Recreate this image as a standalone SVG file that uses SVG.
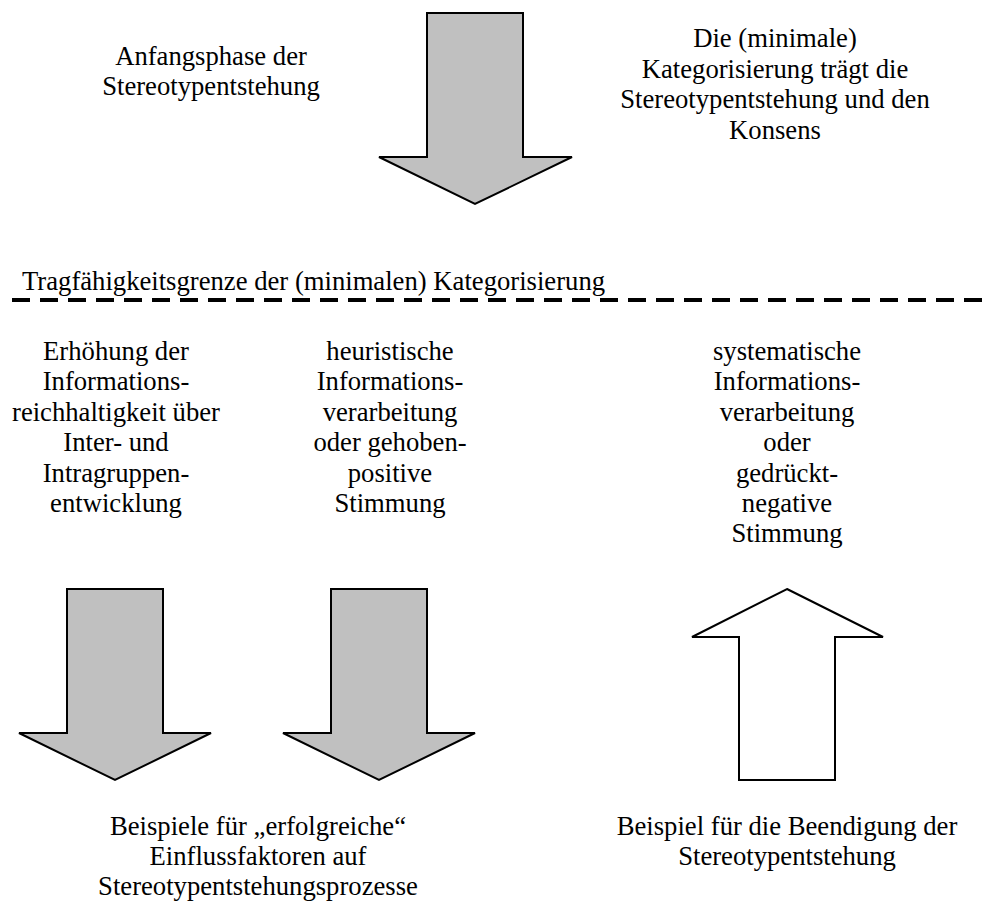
<svg xmlns="http://www.w3.org/2000/svg" width="990" height="904" viewBox="0 0 990 904">
<style>
text{font-family:"Liberation Serif","Times New Roman",serif;font-size:26.67px;fill:#000;text-anchor:middle}
.arrow{fill:#C0C0C0;stroke:#000;stroke-width:2;stroke-linejoin:miter}
.hollow{fill:#FFF;stroke:#000;stroke-width:2;stroke-linejoin:miter}
.dash{stroke:#000;stroke-width:4;stroke-dasharray:18 10;fill:none}
</style>
<rect width="990" height="904" fill="#FFF"/>
<g id="connectors">
<polygon id="arrow-top" class="arrow" points="427,13 523,13 523,157 572,157 475,204 379,157 427,157"/>
<polygon id="arrow-bottom-1" class="arrow" points="67,589 163,589 163,733 211,733 115,780 19,733 67,733"/>
<polygon id="arrow-bottom-2" class="arrow" points="331,589 427,589 427,733 475,733 379,780 283,733 331,733"/>
<polygon id="arrow-up" class="hollow" points="787,589 883,637 835,637 835,780 739,780 739,637 692,637"/>
<line id="boundary-line" class="dash" x1="12" y1="300" x2="990" y2="300"/>
</g>
<g id="label-anfangsphase">
<text x="211" y="65">Anfangsphase der</text>
<text x="211" y="95">Stereotypentstehung</text>
</g>
<g id="label-kategorisierung">
<text x="775" y="47">Die (minimale)</text>
<text x="775" y="77.5">Kategorisierung trägt die</text>
<text x="775" y="108">Stereotypentstehung und den</text>
<text x="775" y="138.5">Konsens</text>
</g>
<g id="label-grenze">
<text x="22" y="290" style="text-anchor:start">Tragfähigkeitsgrenze der (minimalen) Kategorisierung</text>
</g>
<g id="label-erhoehung">
<text x="116" y="360">Erhöhung der</text>
<text x="116" y="390.4">Informations-</text>
<text x="116" y="420.8">reichhaltigkeit über</text>
<text x="116" y="451.2">Inter- und</text>
<text x="116" y="481.6">Intragruppen-</text>
<text x="116" y="512">entwicklung</text>
</g>
<g id="label-heuristisch">
<text x="390" y="360">heuristische</text>
<text x="390" y="390.4">Informations-</text>
<text x="390" y="420.8">verarbeitung</text>
<text x="390" y="451.2">oder gehoben-</text>
<text x="390" y="481.6">positive</text>
<text x="390" y="512">Stimmung</text>
</g>
<g id="label-systematisch">
<text x="787" y="360">systematische</text>
<text x="787" y="390.4">Informations-</text>
<text x="787" y="420.8">verarbeitung</text>
<text x="787" y="451.2">oder</text>
<text x="787" y="481.6">gedrückt-</text>
<text x="787" y="512">negative</text>
<text x="787" y="542.4">Stimmung</text>
</g>
<g id="label-beispiele">
<text x="258" y="835">Beispiele für „erfolgreiche“</text>
<text x="258" y="865">Einflussfaktoren auf</text>
<text x="258" y="895">Stereotypentstehungsprozesse</text>
</g>
<g id="label-beendigung">
<text x="787" y="835">Beispiel für die Beendigung der</text>
<text x="787" y="865">Stereotypentstehung</text>
</g>
</svg>
